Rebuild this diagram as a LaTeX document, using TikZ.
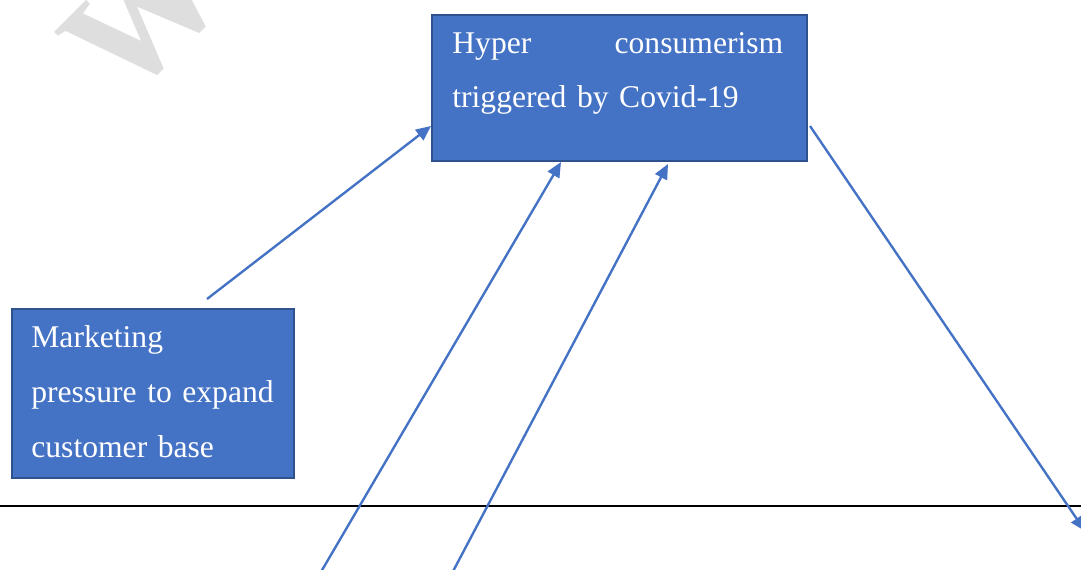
\documentclass[tikz,border=0pt]{standalone}
\usepackage{fontspec}
\setmainfont{Liberation Serif}
\usetikzlibrary{arrows.meta}
\definecolor{boxfill}{HTML}{4472C4}
\definecolor{boxline}{HTML}{2F528F}
\definecolor{arrowblue}{HTML}{4472C4}
\definecolor{wmgray}{HTML}{DEDEDE}
\newdimen\pxu
\pxu=0.56905pt
\tikzset{
  box/.style={draw=boxline, fill=boxfill, line width=1.2pt, rectangle, inner sep=0pt, anchor=north west},
  boxtext/.style={text=white, inner sep=0pt, anchor=base west, align=left,
    font=\fontsize{18pt}{31pt}\selectfont},
  conn/.style={draw=arrowblue, line width=1.35pt, -{Triangle[length=8.5pt,width=7.5pt]}},
  rule/.style={draw=black, line width=0.6pt},
  wmark/.style={text=wmgray, inner sep=0pt, anchor=base west, rotate=45,
    font=\bfseries\fontsize{88pt}{88pt}\selectfont}
}
\begin{document}
\begin{tikzpicture}[x=0.02cm, y=-0.02cm]
\useasboundingbox (0,0) rectangle (1081,569);
\clip (0,0) rectangle (1081,569);
% watermark
\node[wmark] (wm) at (124,106) {W};
% boxes
\node[box, minimum width=375\pxu, minimum height=146\pxu] (top) at (431,14) {};
\node[boxtext, text width=331\pxu] (toptext) at (452,53) {Hyper\hfill consumerism\\triggered by Covid-19};
\node[box, minimum width=282\pxu, minimum height=169\pxu] (mkt) at (11,308) {};
\node[boxtext, text width=255\pxu] (mkttext) at (31,347) {Marketing\\[0.5pt]pressure to expand\\[0.5pt]customer base};
% horizontal rule
\coordinate (ruleL) at (0,506);
\coordinate (ruleR) at (1081,506);
\draw[rule] (ruleL) -- (ruleR);
% arrows
\coordinate (t1) at (207,299);
\coordinate (t2) at (318,577);
\coordinate (t3) at (450,577);
\coordinate (h3) at (668,164);
\coordinate (t4) at (810,126);
\coordinate (h4) at (1085,531);
\draw[conn] (t1) -- (top.west |- 0,126);
\draw[conn] (t2) -- (top.south -| 561,0);
\draw[conn] (t3) -- (h3);
\draw[conn] (t4) -- (h4);
\end{tikzpicture}
\end{document}
